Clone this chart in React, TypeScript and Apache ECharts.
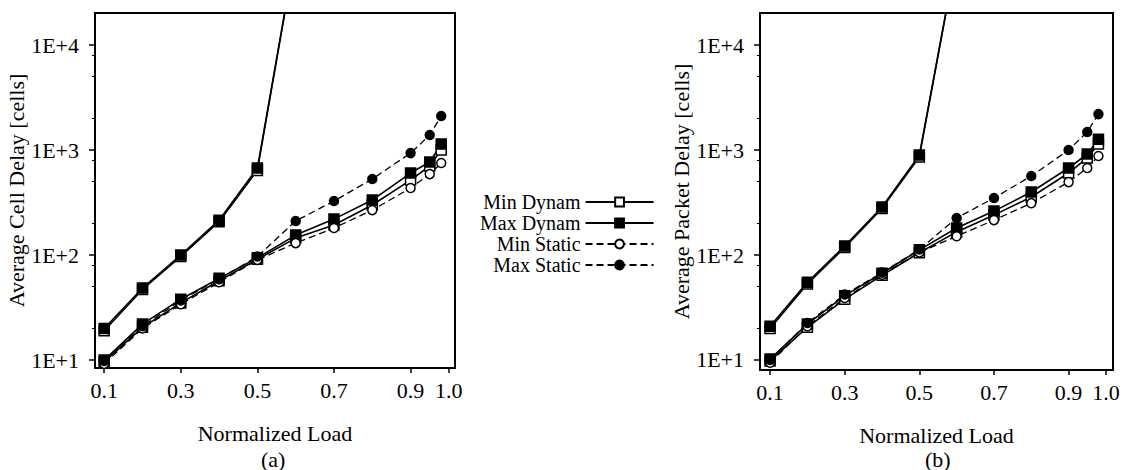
import React, { useEffect, useRef } from "react";
import * as echarts from "echarts";

// ---- data ----
const loadX = [0.1, 0.2, 0.3, 0.4, 0.5, 0.6, 0.7, 0.8, 0.9, 0.95, 0.98];
const surgeX = [0.1, 0.2, 0.3, 0.4, 0.5, 0.6];

const xTickLabels = [0.1, 0.3, 0.5, 0.7, 0.9, 1.0];
const yTickValues = [10, 100, 1000, 10000];
const yMinorValues = [20, 50, 80, 200, 500, 800, 2000, 5000, 8000];

// chart (a): Average Cell Delay
const minDynamA = [9.6, 20.5, 35, 57, 91, 145, 193, 300, 518, 705, 1000];
const maxDynamA = [10, 22, 38, 60, 94, 155, 220, 334, 604, 769, 1140];
const minStaticA = [9.2, 20, 34, 55, 90, 130, 181, 268, 435, 590, 752];
const maxStaticA = [9.8, 21, 37, 59, 97, 211, 327, 530, 935, 1390, 2110];
const surgeMinA = [19, 47, 97, 208, 640, 80000];
const surgeMaxA = [20, 48.5, 100, 215, 674, 80000];

// chart (b): Average Packet Delay
const minDynamB = [9.8, 20.5, 38, 64, 105, 166, 240, 357, 604, 840, 1140];
const maxDynamB = [10.2, 22, 41, 67, 112, 181, 262, 398, 674, 917, 1270];
const minStaticB = [9.4, 21, 39, 65, 106, 151, 215, 312, 495, 674, 877];
const maxStaticB = [10, 22.5, 42, 68, 113, 225, 349, 565, 1000, 1484, 2200];
const surgeMinB = [20, 53, 118, 278, 860, 72000];
const surgeMaxB = [21, 55, 122, 287, 895, 72000];

const legendNames = ["Min Dynam", "Max Dynam", "Min Static", "Max Static"];

const FONT = "Liberation Serif, Times New Roman, serif";
const FS = 22;
const BLACK = "#000";

type Kind = "minDynam" | "maxDynam" | "minStatic" | "maxStatic";

function styleFor(kind: Kind) {
  const isRect = kind === "minDynam" || kind === "maxDynam";
  const filled = kind === "maxDynam" || kind === "maxStatic";
  return {
    symbol: isRect ? "rect" : "circle",
    symbolSize: isRect ? 10 : 9,
    itemStyle: {
      color: filled ? BLACK : "#fff",
      borderColor: BLACK,
      borderWidth: 1.5,
    },
    lineStyle: {
      color: BLACK,
      width: isRect ? 1.6 : 1.3,
      type: isRect ? "solid" : [7, 4],
    },
  };
}

function series(name: string, kind: Kind, xs: number[], ys: number[], idx: number) {
  return {
    type: "line",
    name,
    xAxisIndex: idx,
    yAxisIndex: idx * 2,
    data: xs.map((x, i) => [x, ys[i]]),
    clip: true,
    showSymbol: true,
    z: 2,
    ...styleFor(kind),
  };
}

const labelFmtY = (v: number) => "1E+" + Math.round(Math.log10(v));

function xAxis(gridIndex: number, min: number, max: number) {
  return {
    type: "value",
    gridIndex,
    min,
    max,
    name: "Normalized Load",
    nameLocation: "middle",
    nameGap: 54,
    nameTextStyle: { fontFamily: FONT, fontSize: FS, color: BLACK },
    axisLine: { show: true, lineStyle: { color: BLACK, width: 2 } },
    axisTick: {
      show: true,
      length: 5,
      customValues: xTickLabels,
      lineStyle: { color: BLACK, width: 1.5 },
    },
    axisLabel: {
      customValues: xTickLabels,
      formatter: (v: number) => v.toFixed(1),
      fontFamily: FONT,
      fontSize: FS,
      color: BLACK,
      margin: 11,
    },
    splitLine: { show: false },
  };
}

function yAxes(gridIndex: number, min: number, max: number, name: string) {
  return [
    {
      type: "log",
      logBase: 10,
      gridIndex,
      min,
      max,
      name,
      nameLocation: "middle",
      nameGap: 66,
      nameTextStyle: { fontFamily: FONT, fontSize: FS, color: BLACK },
      axisLine: { show: true, lineStyle: { color: BLACK, width: 2 } },
      axisTick: {
        show: true,
        length: 6,
        customValues: yTickValues,
        lineStyle: { color: BLACK, width: 1.5 },
      },
      axisLabel: {
        customValues: yTickValues,
        formatter: labelFmtY,
        fontFamily: FONT,
        fontSize: FS,
        color: BLACK,
        margin: 16,
      },
      splitLine: { show: false },
    },
    {
      type: "log",
      logBase: 10,
      gridIndex,
      min,
      max,
      position: "left",
      axisLine: { show: false },
      axisTick: {
        show: true,
        length: 3,
        customValues: yMinorValues,
        lineStyle: { color: BLACK, width: 1 },
      },
      axisLabel: { show: false },
      splitLine: { show: false },
    },
  ];
}

function buildSeries(
  idx: number,
  minD: number[],
  maxD: number[],
  minS: number[],
  maxS: number[],
  sMin: number[],
  sMax: number[]
) {
  return [
    series("Min Dynam", "minDynam", loadX, minD, idx),
    series("Max Dynam", "maxDynam", loadX, maxD, idx),
    series("Min Static", "minStatic", loadX, minS, idx),
    series("Max Static", "maxStatic", loadX, maxS, idx),
    series("Min Dynam", "minDynam", surgeX, sMin, idx),
    series("Max Dynam", "maxDynam", surgeX, sMax, idx),
  ];
}

const option: any = {
  animation: false,
  backgroundColor: "#fff",
  textStyle: { fontFamily: FONT, color: BLACK },
  grid: [
    { left: 95, top: 13, width: 360, height: 355, show: true, borderColor: BLACK, borderWidth: 2, backgroundColor: "transparent" },
    { left: 760, top: 13, width: 353, height: 357, show: true, borderColor: BLACK, borderWidth: 2, backgroundColor: "transparent" },
  ],
  xAxis: [xAxis(0, 0.076, 1.016), xAxis(1, 0.073, 1.019)],
  yAxis: [
    ...yAxes(0, 8.4, 20200, "Average Cell Delay [cells]"),
    ...yAxes(1, 8.03, 20200, "Average Packet Delay [cells]"),
  ],
  legend: {
    data: legendNames,
    orient: "vertical",
    align: "right",
    left: 480,
    top: 192,
    padding: 0,
    itemWidth: 68,
    itemHeight: 11,
    itemGap: 1,
    selectedMode: false,
    textStyle: { fontFamily: FONT, fontSize: 20, color: BLACK },
  },
  graphic: [
    { type: "text", left: 261, top: 448, style: { text: "(a)", font: `${FS}px ${FONT}`, fill: BLACK } },
    { type: "text", left: 925, top: 448, style: { text: "(b)", font: `${FS}px ${FONT}`, fill: BLACK } },
  ],
  series: [
    ...buildSeries(0, minDynamA, maxDynamA, minStaticA, maxStaticA, surgeMinA, surgeMaxA),
    ...buildSeries(1, minDynamB, maxDynamB, minStaticB, maxStaticB, surgeMinB, surgeMaxB),
  ],
};

export default function App() {
  const ref = useRef<HTMLDivElement>(null);
  useEffect(() => {
    const chart = echarts.init(ref.current!, null, { renderer: "svg" });
    chart.setOption(option);
    return () => chart.dispose();
  }, []);
  return (
    <div
      ref={ref}
      style={{ position: "fixed", left: 0, top: 0, width: 1132, height: 470, background: "#fff" }}
    />
  );
}
